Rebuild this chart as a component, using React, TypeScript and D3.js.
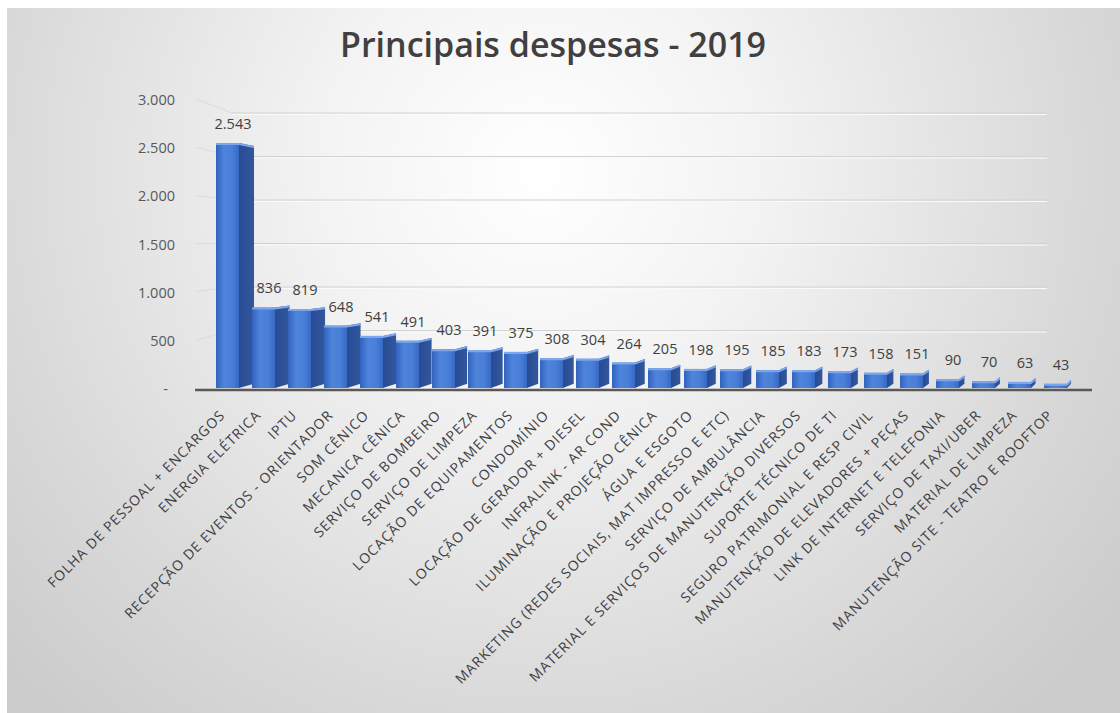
import React from "react";
import * as d3 from "d3";

const categories: string[] = [
  "FOLHA DE PESSOAL + ENCARGOS",
  "ENERGIA ELÉTRICA",
  "IPTU",
  "RECEPÇÃO DE EVENTOS - ORIENTADOR",
  "SOM CÊNICO",
  "MECANICA CÊNICA",
  "SERVIÇO DE BOMBEIRO",
  "SERVIÇO DE LIMPEZA",
  "LOCAÇÃO DE EQUIPAMENTOS",
  "CONDOMÍNIO",
  "LOCAÇÃO DE GERADOR + DIESEL",
  "INFRALINK - AR COND",
  "ILUMINAÇÃO E PROJEÇÃO CÊNICA",
  "ÁGUA E ESGOTO",
  "MARKETING (REDES SOCIAIS, MAT IMPRESSO E ETC)",
  "SERVIÇO DE AMBULÂNCIA",
  "MATERIAL E SERVIÇOS DE MANUTENÇÃO DIVERSOS",
  "SUPORTE TÉCNICO DE TI",
  "SEGURO PATRIMONIAL E RESP CIVIL",
  "MANUTENÇÃO DE ELEVADORES + PEÇAS",
  "LINK DE INTERNET E TELEFONIA",
  "SERVIÇO DE TAXI/UBER",
  "MATERIAL DE LIMPEZA",
  "MANUTENÇÃO SITE - TEATRO E ROOFTOP",
];

const values: number[] = [
  2543, 836, 819, 648, 541, 491, 403, 391, 375, 308, 304, 264, 205, 198, 195,
  185, 183, 173, 158, 151, 90, 70, 63, 43,
];

const yTicks: number[] = [0, 500, 1000, 1500, 2000, 2500, 3000];
const title = "Principais despesas - 2019";

const W = 1120;
const H = 713;

const fmt = (v: number) =>
  v === 0 ? "-" : d3.format(",")(v).replace(/,/g, ".");

export default function App() {
  const x = d3
    .scaleBand<string>()
    .domain(categories)
    .range([217, 217 + 36 * categories.length])
    .padding(0);
  const yFront = d3.scaleLinear().domain([0, 3000]).range([388, 99]);
  const yBack = d3.scaleLinear().domain([0, 3000]).range([374, 113]);
  const n = categories.length;

  const font = "'Open Sans', 'DejaVu Sans', sans-serif";

  return (
    <svg
      width={W}
      height={H}
      style={{ position: "absolute", left: 0, top: 0 }}
      xmlns="http://www.w3.org/2000/svg"
    >
      <defs>
        <radialGradient
          id="bg"
          gradientUnits="userSpaceOnUse"
          cx={540}
          cy={170}
          r={740}
        >
          <stop offset="0" stopColor="#ffffff" />
          <stop offset="0.3" stopColor="#f3f3f3" />
          <stop offset="0.75" stopColor="#d8d8d8" />
          <stop offset="1" stopColor="#cbcbcb" />
        </radialGradient>
        <linearGradient id="front" x1="0" x2="1" y1="0" y2="0">
          <stop offset="0" stopColor="#3262be" />
          <stop offset="0.35" stopColor="#4e84dc" />
          <stop offset="0.7" stopColor="#4a7fd8" />
          <stop offset="1" stopColor="#3869c4" />
        </linearGradient>
        <linearGradient id="side" x1="0" x2="1" y1="0" y2="0">
          <stop offset="0" stopColor="#284c94" />
          <stop offset="1" stopColor="#33579c" />
        </linearGradient>
      </defs>
      <rect x={0} y={0} width={W} height={H} fill="#ffffff" />
      <rect x={7} y={8} width={W - 7} height={H - 8} fill="url(#bg)" />

      <text
        x={553}
        y={57}
        textAnchor="middle"
        fontFamily={font}
        fontWeight={600}
        fontSize={34}
        fill="#404040"
      >
        {title}
      </text>

      {/* gridlines on back wall and side wall */}
      {yTicks.slice(1).map((t) => (
        <g key={"g" + t}>
          <line
            x1={232}
            x2={1047}
            y1={yBack(t)}
            y2={yBack(t)}
            stroke="#d2d2d2"
            strokeWidth={1}
          />
          <line
            x1={232}
            x2={1047}
            y1={yBack(t) + 1.5}
            y2={yBack(t) + 1.5}
            stroke="#fafafa"
            strokeWidth={1}
          />
          <line
            x1={196}
            x2={232}
            y1={yFront(t)}
            y2={yBack(t)}
            stroke="#dcdcdc"
            strokeWidth={1}
          />
        </g>
      ))}

      {/* y axis labels */}
      {yTicks.map((t) => (
        <text
          key={"y" + t}
          x={t === 0 ? 168 : 175}
          y={yFront(t) + 6}
          textAnchor="end"
          fontFamily={font}
          fontSize={14.5}
          fill="#595959"
        >
          {fmt(t)}
        </text>
      ))}

      {/* bars */}
      {categories.map((c, i) => {
        const v = values[i];
        const cx = (x(c) as number) + x.bandwidth() / 2;
        const x0 = cx - 19;
        const x1 = x0 + 23;
        const s = 15 - (11 * i) / (n - 1);
        const yt = yFront(v);
        const yb = yFront(0);
        const ytb = yt + 0.3 * (yBack(v) - yt);
        const ybb = yb + 0.3 * (yBack(0) - yb);
        const side = `M${x1},${yt} L${x1 + s},${ytb} L${x1 + s},${ybb} L${x1},${yb} Z`;
        return (
          <g key={"b" + i}>
            <path d={side} fill="url(#side)" />
            <rect
              x={x0}
              y={yt}
              width={x1 - x0}
              height={yb - yt}
              fill="url(#front)"
            />
            <path
              d={`M${x0},${yt + 1} L${x1},${yt + 1} L${x1 + s},${ytb + 1}`}
              fill="none"
              stroke="#7ea6ea"
              strokeWidth={2}
            />
            <text
              x={cx - 2}
              y={yt - 14}
              textAnchor="middle"
              fontFamily={font}
              fontSize={14.5}
              fill="#404040"
            >
              {fmt(v)}
            </text>
          </g>
        );
      })}

      {/* floor line */}
      <line
        x1={195}
        x2={1092}
        y1={390}
        y2={390}
        stroke="#595959"
        strokeWidth={2.5}
      />

      {/* category labels */}
      {categories.map((c, i) => {
        const cx = (x(c) as number) + x.bandwidth() / 2;
        const ax = cx - 9;
        const ay = 416;
        return (
          <text
            key={"c" + i}
            transform={`translate(${ax},${ay}) rotate(-45)`}
            textAnchor="end"
            fontFamily={font}
            fontSize={14}
            letterSpacing={1.0}
            fill="#404040"
          >
            {c}
          </text>
        );
      })}
    </svg>
  );
}
